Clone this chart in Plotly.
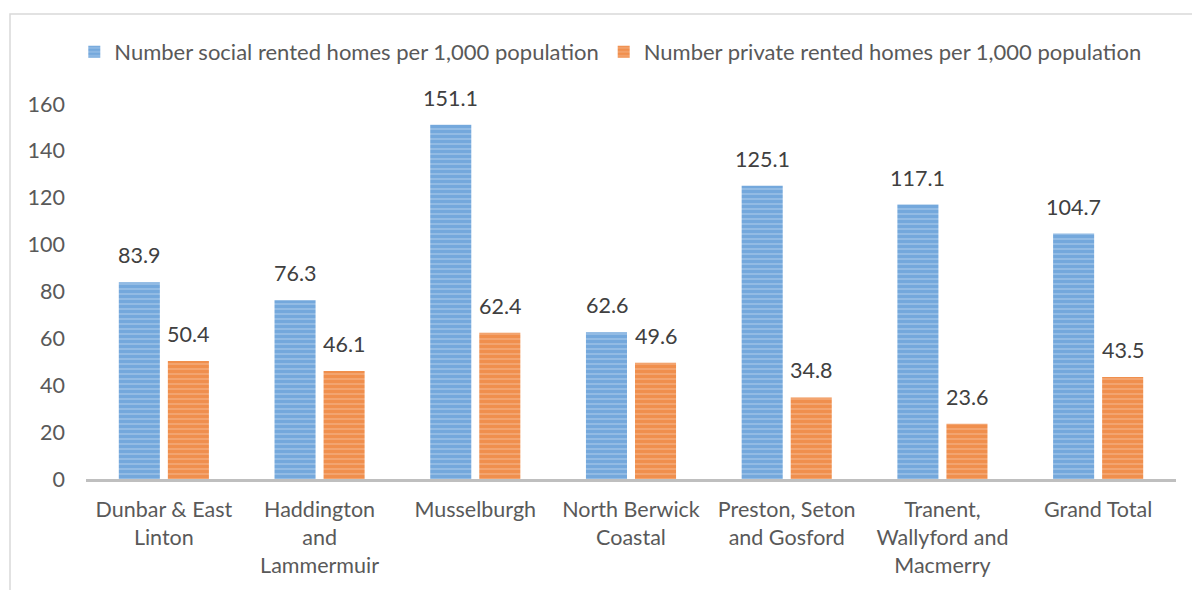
import plotly.graph_objects as go

categories = ["Dunbar & East<br>Linton", "Haddington<br>and<br>Lammermuir", "Musselburgh",
              "North Berwick<br>Coastal", "Preston, Seton<br>and Gosford",
              "Tranent,<br>Wallyford and<br>Macmerry", "Grand Total"]
social = [83.9, 76.3, 151.1, 62.6, 125.1, 117.1, 104.7]
private = [50.4, 46.1, 62.4, 49.6, 34.8, 23.6, 43.5]
series_names = ["Number social rented homes per 1,000 population",
                "Number private rented homes per 1,000 population"]
yticks = [0, 20, 40, 60, 80, 100, 120, 140, 160]

FONT = "Lato"
TXT = "#595959"
FS = 21.5
W, H = 1192, 590
ML, MR, MT, MB = 86, 16, 104, 111

fig = go.Figure()
fig.add_trace(go.Bar(
    x=categories, y=social, name=series_names[0],
    marker=dict(color="#5b9bd5", line=dict(width=0),
                pattern=dict(shape="-", bgcolor="#92bbe4", fgcolor="#5596d3",
                             size=5, solidity=0.6)),
))
fig.add_trace(go.Bar(
    x=categories, y=private, name=series_names[1],
    marker=dict(color="#ed7d31", line=dict(width=0),
                pattern=dict(shape="-", bgcolor="#f3a46f", fgcolor="#ed7a2c",
                             size=5, solidity=0.6)),
))

# data labels
for vals, shift in ((social, -24.5), (private, 24.5)):
    for c, v in zip(categories, vals):
        fig.add_annotation(x=c, y=v, text=f"{v:.1f}", showarrow=False,
                           xshift=shift, yshift=27,
                           font=dict(family=FONT, size=FS, color="#404040"))

# chart border (top and left visible)
pw = W - ML - MR
ph = H - MT - MB
fig.add_shape(type="rect", xref="paper", yref="paper",
              x0=(10 - ML) / pw, x1=(W + 20 - ML) / pw,
              y0=-(MB + 20) / ph, y1=1 + (MT - 14) / ph,
              line=dict(color="#d9d9d9", width=1.5), layer="below")

fig.update_layout(
    width=W, height=H,
    margin=dict(l=ML, r=MR, t=MT, b=MB, autoexpand=False),
    plot_bgcolor="white", paper_bgcolor="white",
    font=dict(family=FONT, size=FS, color=TXT),
    barmode="group", bargap=0.37, bargroupgap=0.163,
    showlegend=True,
    legend=dict(orientation="h", x=0.481, xanchor="center", y=1.0 + (MT - 52) / ph,
                yanchor="middle", font=dict(family=FONT, size=22.0, color=TXT),
                itemsizing="constant", traceorder="normal", itemwidth=30),
    xaxis=dict(showgrid=False, showline=True, linecolor="#bfbfbf", linewidth=3,
               ticks="", automargin=False, ticklabelstandoff=9,
               tickfont=dict(family=FONT, size=FS, color=TXT)),
    yaxis=dict(range=[0, 160], tickvals=yticks, showgrid=False, showline=False,
               zeroline=False, ticks="", ticklabelstandoff=20, automargin=False,
               tickfont=dict(family=FONT, size=FS, color=TXT)),
)

fig.write_html("out.html", config={"displayModeBar": False})

# remove the browser's default page margin so the figure sits at (0, 0)
with open("out.html", "r", encoding="utf-8") as f:
    html = f.read()
html = html.replace("<head>", "<head><style>html,body{margin:0;padding:0;overflow:hidden;}</style>", 1)
with open("out.html", "w", encoding="utf-8") as f:
    f.write(html)
